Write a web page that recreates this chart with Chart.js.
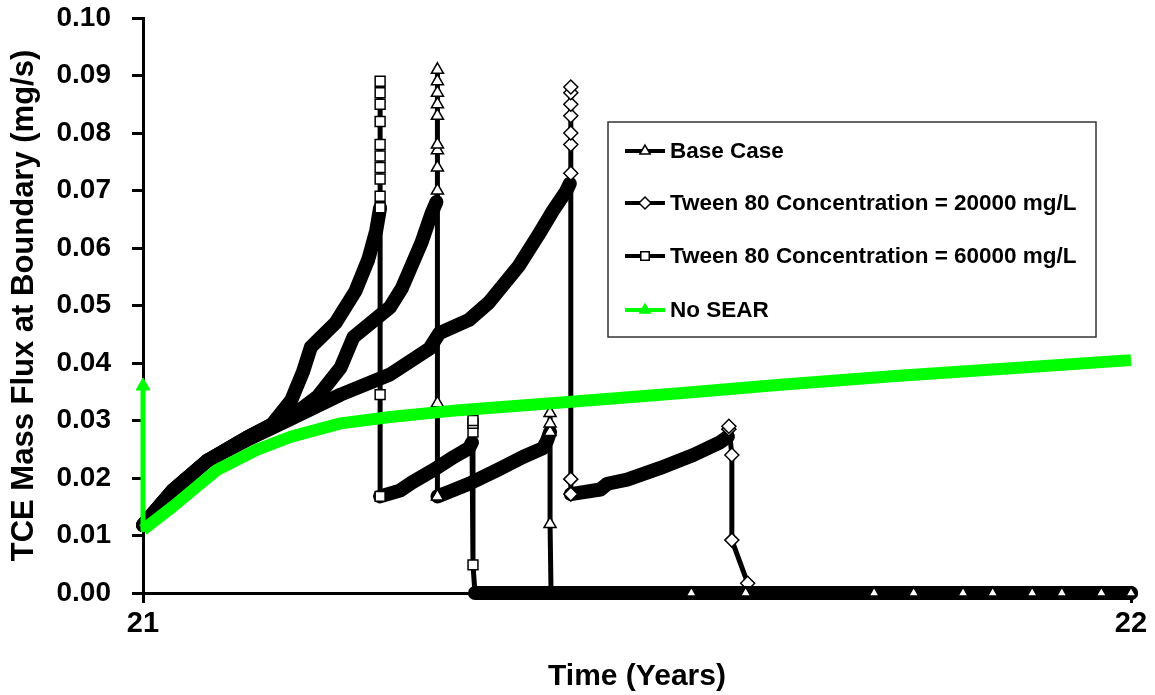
<!DOCTYPE html>
<html>
<head>
<meta charset="utf-8">
<script src="https://cdn.jsdelivr.net/npm/chart.js@4.4.1/dist/chart.umd.min.js"></script>
<style>
html, body { margin: 0; padding: 0; background: #fff; }
#wrap { width: 1155px; height: 695px; }
</style>
</head>
<body>
<div id="wrap"><canvas id="myChart" width="1155" height="695"></canvas></div>
<script>
// series names, in legend order
var seriesNames = ["Base Case", "Tween 80 Concentration = 20000 mg/L", "Tween 80 Concentration = 60000 mg/L", "No SEAR"];

// time axis (years)
var timeMin = 21;
var timeMax = 22;
var timeTicks = [21, 22];

// Base Case
var baseTime = [21.000, 21.030, 21.065, 21.105, 21.135, 21.160, 21.177, 21.200, 21.213, 21.250, 21.262, 21.282, 21.292, 21.297,
    21.298, 21.298, 21.298, 21.298, 21.298, 21.298, 21.298, 21.298, 21.298, 21.298, 21.298,
    21.310, 21.330, 21.360, 21.385, 21.405, 21.409,
    21.412, 21.412, 21.412, 21.412, 21.413,
    21.555, 21.610, 21.740, 21.780, 21.830, 21.860, 21.900, 21.930, 21.970, 22.000];
var baseFlux = [0.0118, 0.0178, 0.0230, 0.0270, 0.0297, 0.0320, 0.0342, 0.0392, 0.0445, 0.0497, 0.0530, 0.0610, 0.0660, 0.0680,
    0.0700, 0.0740, 0.0770, 0.0780, 0.0830, 0.0850, 0.0870, 0.0890, 0.0910, 0.0330, 0.0168,
    0.0176, 0.0190, 0.0215, 0.0237, 0.0252, 0.0265,
    0.0280, 0.0295, 0.0313, 0.0120, 0,
    0, 0, 0, 0, 0, 0, 0, 0, 0, 0];

// Tween 80 = 20000 mg/L
var t20Time = [21.000, 21.030, 21.065, 21.105, 21.150, 21.200, 21.250, 21.290, 21.300, 21.330, 21.350, 21.380, 21.400, 21.415, 21.428, 21.432,
    21.433, 21.433, 21.433, 21.433, 21.433, 21.433, 21.433, 21.433, 21.433,
    21.463, 21.470, 21.490, 21.523, 21.557, 21.584, 21.592,
    21.593, 21.593, 21.596, 21.596, 21.612, 21.612,
    21.640, 21.710, 21.750, 21.790, 21.820, 21.870, 21.920, 21.960, 21.980, 22.000];
var t20Flux = [0.0118, 0.0178, 0.0230, 0.0266, 0.0303, 0.0345, 0.0380, 0.0425, 0.0452, 0.0475, 0.0505, 0.0568, 0.0622, 0.0665, 0.0698, 0.0712,
    0.0730, 0.0780, 0.0800, 0.0830, 0.0850, 0.0870, 0.0880, 0.0198, 0.0172,
    0.0180, 0.0190, 0.0197, 0.0217, 0.0240, 0.0262, 0.0272,
    0.0285, 0.0290, 0.0240, 0.0092, 0.0017, 0,
    0, 0, 0, 0, 0, 0, 0, 0, 0, 0];

// Tween 80 = 60000 mg/L
var t60Time = [21.000, 21.030, 21.065, 21.105, 21.130, 21.150, 21.162, 21.170, 21.195, 21.215, 21.228, 21.236, 21.240,
    21.240, 21.240, 21.240, 21.240, 21.240, 21.240, 21.240, 21.240, 21.240, 21.240, 21.240,
    21.260, 21.272, 21.295, 21.315, 21.330, 21.333,
    21.334, 21.334, 21.334, 21.334, 21.336,
    21.560, 21.590, 21.730, 21.770, 21.800, 21.840, 21.880, 21.910, 21.950, 21.990];
var t60Flux = [0.0118, 0.0178, 0.0230, 0.0270, 0.0292, 0.0335, 0.0385, 0.0428, 0.0470, 0.0525, 0.0580, 0.0630, 0.0670,
    0.0690, 0.0720, 0.0740, 0.0760, 0.0780, 0.0820, 0.0850, 0.0870, 0.0890, 0.0345, 0.0168,
    0.0178, 0.0192, 0.0215, 0.0237, 0.0252, 0.0262,
    0.0280, 0.0295, 0.0300, 0.0049, 0,
    0, 0, 0, 0, 0, 0, 0, 0, 0, 0];

// No SEAR
var noSearTime = [21.000, 21.000, 21.030, 21.075, 21.115, 21.150, 21.200, 21.250, 21.320, 21.430, 21.540, 21.645, 21.765, 21.890, 22.000];
var noSearFlux = [0.0360, 0.0110, 0.0150, 0.0214, 0.0249, 0.0272, 0.0295, 0.0306, 0.0318, 0.0332, 0.0347, 0.0362, 0.0378, 0.0392, 0.0405];

var sans = "'Liberation Sans', Arial, sans-serif";
var narrow = "'Liberation Sans Narrow', 'Arial Narrow', 'Liberation Sans', Arial, sans-serif";

function pairs(t, v) {
    return t.map(function (x, i) { return { x: x, y: v[i] }; });
}

// hollow markers only on the spikes, drops and the flat zero tail
function markerSize(ctx) {
    var d = ctx.dataset.data;
    var i = ctx.dataIndex;
    var p = d[i];
    if (!p) return 0;
    var prev = d[i - 1];
    var next = d[i + 1];
    if (p.y === 0) return prev && prev.y === 0 ? 6 : 0;
    if ((prev && prev.x === p.x) || (next && next.x === p.x)) return 7;
    return 0;
}

// thick band along the curves, thin line on vertical jumps and drops
function segWidth(thick) {
    return function (ctx) {
        var dx = Math.abs(ctx.p1.x - ctx.p0.x);
        var drop = ctx.p1.y - ctx.p0.y;
        return (dx < 1.5 || drop > 5) ? 5 : thick;
    };
}

function blackSeries(label, t, v, style) {
    return {
        label: label,
        data: pairs(t, v),
        borderColor: "#000",
        backgroundColor: "#fff",
        pointStyle: style,
        pointRadius: markerSize,
        pointBorderColor: "#000",
        pointBackgroundColor: "#fff",
        pointBorderWidth: 1.5,
        borderJoinStyle: "round",
        borderCapStyle: "round",
        segment: { borderWidth: segWidth(14) },
        tension: 0,
        clip: false,
        order: 1
    };
}

var datasets = [
    blackSeries(seriesNames[0], baseTime, baseFlux, "triangle"),
    blackSeries(seriesNames[1], t20Time, t20Flux, "rectRot"),
    blackSeries(seriesNames[2], t60Time, t60Flux, "rect"),
    {
        label: seriesNames[3],
        data: pairs(noSearTime, noSearFlux),
        borderColor: "#00ff00",
        backgroundColor: "#00ff00",
        pointStyle: "triangle",
        pointRadius: function (ctx) { return ctx.dataIndex === 0 ? 8 : 0; },
        pointBorderColor: "#00ff00",
        pointBackgroundColor: "#00ff00",
        borderJoinStyle: "round",
        segment: { borderWidth: segWidth(12) },
        tension: 0,
        clip: false,
        order: 0
    }
];

// boxed legend drawn inside the plot
var boxLegend = {
    id: "boxLegend",
    afterDraw: function (chart) {
        var c = chart.ctx;
        var bx = 608, by = 122, bw = 488, bh = 215;
        var rows = [151, 203, 256, 310];
        c.save();
        c.fillStyle = "#fff";
        c.fillRect(bx, by, bw, bh);
        c.strokeStyle = "#333";
        c.lineWidth = 1.5;
        c.strokeRect(bx, by, bw, bh);
        chart.data.datasets.forEach(function (ds, i) {
            var y = rows[i];
            c.strokeStyle = ds.borderColor;
            c.lineWidth = 4;
            c.beginPath();
            c.moveTo(625, y);
            c.lineTo(665, y);
            c.stroke();
            c.fillStyle = ds.pointBackgroundColor;
            c.strokeStyle = ds.pointBorderColor;
            c.lineWidth = 1.5;
            Chart.helpers.drawPoint(c, { pointStyle: ds.pointStyle, radius: 6, rotation: 0, borderWidth: 1.5 }, 645, y);
            c.fillStyle = "#000";
            c.font = "bold 22.5px " + sans;
            c.textBaseline = "middle";
            c.textAlign = "left";
            c.fillText(ds.label, 670, y + 1);
        });
        c.restore();
    }
};

var ctx = document.getElementById("myChart");

var myChart = new Chart(ctx, {
    type: "line",
    data: { datasets: datasets },
    options: {
        responsive: false,
        animation: false,
        layout: { padding: { top: 18, right: 24, bottom: 0, left: 0 } },
        plugins: {
            legend: { display: false },
            tooltip: { enabled: false }
        },
        scales: {
            x: {
                type: "linear",
                min: timeMin,
                max: timeMax,
                afterFit: function (s) { s.height = 102; },
                afterBuildTicks: function (s) { s.ticks = timeTicks.map(function (v) { return { value: v }; }); },
                ticks: {
                    color: "#000",
                    font: { family: narrow, size: 29, weight: "bold" },
                    padding: 4,
                    maxRotation: 0,
                    autoSkip: false
                },
                grid: { drawOnChartArea: false, color: "#000", lineWidth: 3, tickLength: 10 },
                border: { color: "#000", width: 3 },
                title: {
                    display: true,
                    text: "Time (Years)",
                    color: "#000",
                    font: { family: narrow, size: 30, weight: "bold" },
                    padding: { top: 0, bottom: 0 }
                }
            },
            y: {
                min: 0,
                max: 0.1,
                afterFit: function (s) { s.width = 143; s.paddingTop = 0; s.paddingBottom = 0; },
                ticks: {
                    stepSize: 0.01,
                    color: "#000",
                    font: { family: sans, size: 28, weight: "bold" },
                    padding: 21,
                    callback: function (v) { return v.toFixed(2); }
                },
                grid: { drawOnChartArea: false, color: "#000", lineWidth: 3, tickLength: 11 },
                border: { color: "#000", width: 3 },
                title: {
                    display: true,
                    text: "TCE Mass Flux at Boundary (mg/s)",
                    color: "#000",
                    font: { family: sans, size: 31, weight: "bold" },
                    padding: { top: 6, bottom: 0 }
                }
            }
        }
    },
    plugins: [boxLegend]
});
</script>
</body>
</html>
